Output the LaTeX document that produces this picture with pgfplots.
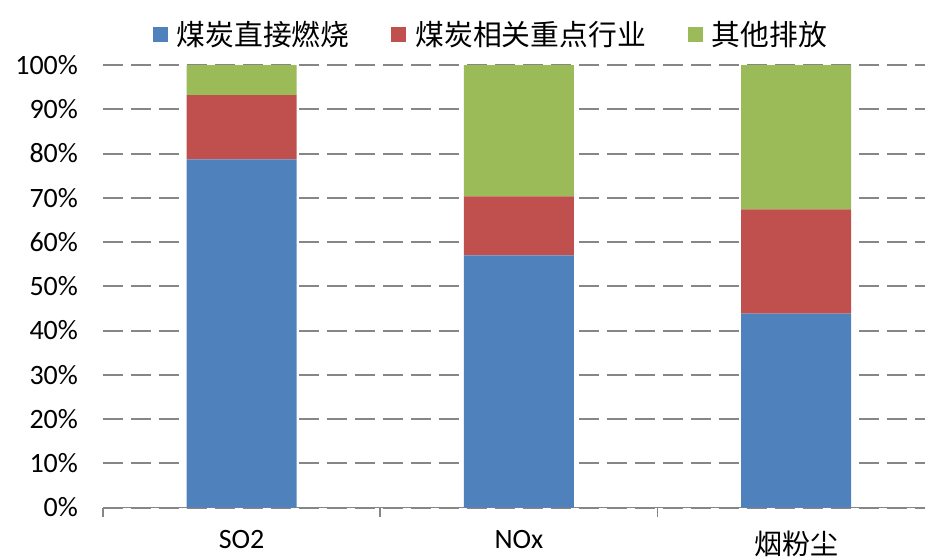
\documentclass[border=0pt]{standalone}
\usepackage{pgfplots}
\pgfplotsset{compat=1.18}
\usepackage{fontspec}
\setmainfont{Carlito}
\newfontfamily\cjk{Noto Sans CJK SC}
\definecolor{cblue}{HTML}{4F81BD}
\definecolor{cred}{HTML}{C0504D}
\definecolor{cgreen}{HTML}{9BBB59}
\definecolor{gridgray}{HTML}{868686}
\pgfplotsset{sqlegend/.style={legend image code/.code={\fill[##1] (0pt,-3.5pt) rectangle (7.5pt,4pt);}}}
\begin{document}
\begin{tikzpicture}
\begin{axis}[name=ax, at={(0,0)}, anchor=south west,
  scale only axis, width=411pt, height=221.25pt,
  xmin=-0.5, xmax=2.465, ymin=0, ymax=100,
  ybar stacked, bar width=55pt,
  axis lines*=left,
  y axis line style={draw=none},
  x axis line style={gridgray, line width=0.8pt},
  xtick={0,1,2}, xticklabels={SO2, NOx, {\cjk 烟粉尘}},
  major tick length=0pt,
  minor xtick={-0.5,0.5,1.5},
  minor tick length=4.5pt,
  xtick align=outside,
  minor x tick style={draw=gridgray, line width=0.8pt},
  ytick style={draw=none},
  ytick={0,10,...,100},
  yticklabel={\pgfmathprintnumber{\tick}\%},
  /pgf/number format/assume math mode=true,
  tick label style={font=\fontsize{14}{16}\selectfont, text=black},
  yticklabel shift=9pt,
  xticklabel shift=8pt,
  ymajorgrids,
  grid style={gridgray, line width=1pt, dash pattern=on 10pt off 4pt},
  legend style={at={(0.473,1)}, anchor=center, yshift=15pt, draw=none,
     legend columns=-1, font=\cjk\fontsize{14.4}{16}\selectfont,
     /tikz/every odd column/.append style={column sep=2.5pt},
     /tikz/every even column/.append style={column sep=19pt}},
]
\addplot[fill=cblue, draw=none, sqlegend] coordinates {(0,78.7) (1,57.0) (2,43.8)};
\addplot[fill=cred, draw=none, sqlegend] coordinates {(0,14.5) (1,13.3) (2,23.6)};
\addplot[fill=cgreen, draw=none, sqlegend] coordinates {(0,6.8) (1,29.7) (2,32.6)};
\legend{煤炭直接燃烧, 煤炭相关重点行业, 其他排放}
\end{axis}
\pgfresetboundingbox
\path[use as bounding box] ([shift={(-51.5pt,-25.25pt)}]ax.south west) rectangle ([shift={(0pt,32.5pt)}]ax.north east);
\end{tikzpicture}
\end{document}
